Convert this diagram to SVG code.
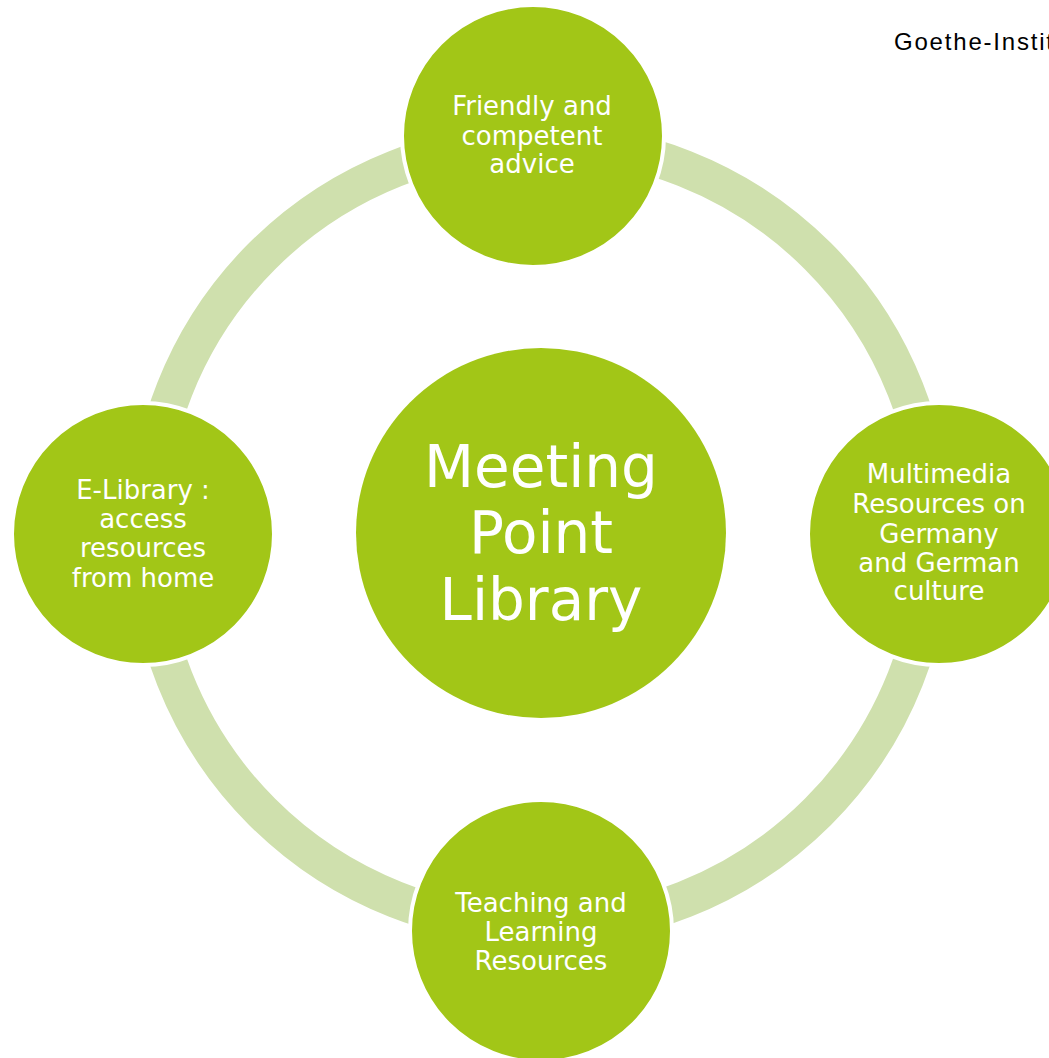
<svg xmlns="http://www.w3.org/2000/svg" width="1049" height="1058" viewBox="0 0 1049 1058">
<style>
.node{fill:#a2c617;stroke:#ffffff;stroke-width:4}
.lbl{font-family:"DejaVu Sans",Verdana,sans-serif;font-size:26px;fill:#ffffff;text-anchor:middle}
.big{font-family:"DejaVu Sans",Verdana,sans-serif;font-size:58px;fill:#ffffff;text-anchor:middle}
.title{font-family:"Liberation Sans",Arial,sans-serif;font-size:24px;fill:#000000;letter-spacing:1.8px}
</style>
<rect width="1049" height="1058" fill="#ffffff"/>
<text class="title" x="894" y="50">Goethe-Instit</text>
<g id="connectors">
<circle cx="540" cy="534" r="393" fill="none" stroke="#cfe0ad" stroke-width="37"/>
</g>
<g id="center">
<circle cx="541" cy="533" r="185" fill="#a2c617"/>
<text class="big" x="541" y="487">Meeting</text>
<text class="big" x="541" y="553">Point</text>
<text class="big" x="541" y="620">Library</text>
</g>
<g id="node-top">
<circle class="node" cx="533" cy="136" r="131"/>
<text class="lbl" x="532" y="115">Friendly and</text>
<text class="lbl" x="532" y="145">competent</text>
<text class="lbl" x="532" y="173">advice</text>
</g>
<g id="node-right">
<circle class="node" cx="939" cy="534" r="131"/>
<text class="lbl" x="939" y="483">Multimedia</text>
<text class="lbl" x="939" y="513">Resources on</text>
<text class="lbl" x="939" y="543">Germany</text>
<text class="lbl" x="939" y="572">and German</text>
<text class="lbl" x="939" y="600">culture</text>
</g>
<g id="node-bottom">
<circle class="node" cx="541" cy="931" r="131"/>
<text class="lbl" x="541" y="912">Teaching and</text>
<text class="lbl" x="541" y="941">Learning</text>
<text class="lbl" x="541" y="970">Resources</text>
</g>
<g id="node-left">
<circle class="node" cx="143" cy="534" r="131"/>
<text class="lbl" x="143" y="499">E-Library :</text>
<text class="lbl" x="143" y="528">access</text>
<text class="lbl" x="143" y="557">resources</text>
<text class="lbl" x="143" y="587">from home</text>
</g>
</svg>
